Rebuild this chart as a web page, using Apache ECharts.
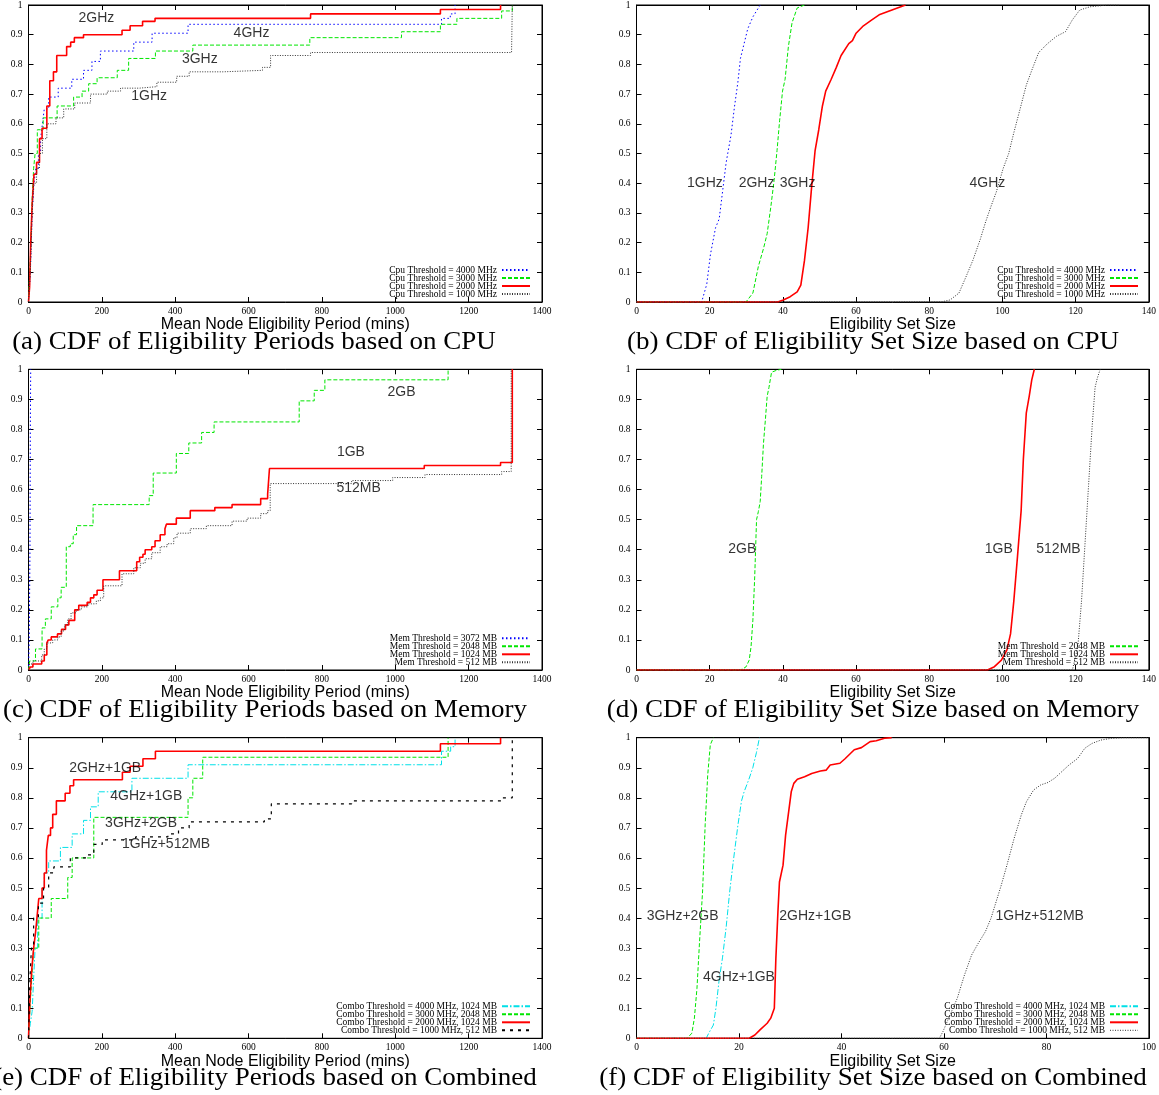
<!DOCTYPE html>
<html>
<head>
<meta charset="utf-8">
<script src="https://cdn.jsdelivr.net/npm/echarts@6/dist/echarts.min.js"></script>
<style>html,body{margin:0;padding:0;background:#fff}#c{width:1159px;height:1095px}</style>
</head>
<body>
<div id="c"></div>
<script>
// ---------- tick labels ----------
const cdfTicks = [0,0.1,0.2,0.3,0.4,0.5,0.6,0.7,0.8,0.9,1];
const periodTicks = [0,200,400,600,800,1000,1200,1400];
const cpuMemSetTicks = [0,20,40,60,80,100,120,140];
const comboSetTicks = [0,20,40,60,80,100];

// ---------- series names ----------
const cpuNames = ['Cpu Threshold = 4000 MHz','Cpu Threshold = 3000 MHz','Cpu Threshold = 2000 MHz','Cpu Threshold = 1000 MHz'];
const memNames = ['Mem Threshold = 3072 MB','Mem Threshold = 2048 MB','Mem Threshold = 1024 MB','Mem Threshold = 512 MB'];
const comboNames = ['Combo Threshold = 4000 MHz, 1024 MB','Combo Threshold = 3000 MHz, 2048 MB','Combo Threshold = 2000 MHz, 1024 MB','Combo Threshold = 1000 MHz, 512 MB'];

// ---------- (a) eligibility periods, CPU ----------
const periodCpu4000 = [[0,0],[5,0.1],[10,0.3],[15,0.4],[20,0.45],[27,0.5],[33,0.55],[38,0.6],[43,0.65],[55,0.69],[81,0.72],[118,0.75],[150,0.78],[173,0.81],[196,0.845],[287,0.875],[337,0.905],[435,0.935],[1126,0.955],[1150,0.97],[1163,1.0]];
const periodCpu3000 = [[0,0],[5,0.15],[10,0.35],[14,0.45],[18,0.5],[24,0.58],[40,0.62],[78,0.66],[123,0.69],[146,0.71],[164,0.735],[187,0.755],[242,0.78],[273,0.82],[346,0.845],[448,0.865],[767,0.89],[1017,0.91],[1123,0.935],[1168,0.955],[1290,0.98],[1319,1.0]];
const periodCpu2000 = [[0,0],[3,0.05],[6,0.2],[10,0.33],[15,0.43],[22,0.47],[30,0.55],[37,0.585],[50,0.66],[58,0.745],[68,0.775],[77,0.83],[104,0.86],[115,0.875],[125,0.89],[150,0.9],[255,0.915],[277,0.93],[311,0.945],[345,0.955],[769,0.97],[1123,0.985],[1287,1.0]];
const periodCpu1000 = [[0,0],[5,0.1],[10,0.3],[14,0.4],[22,0.45],[30,0.5],[38,0.55],[50,0.6],[75,0.62],[96,0.65],[126,0.67],[169,0.7],[215,0.71],[251,0.72],[302,0.725],[350,0.74],[404,0.76],[438,0.775],[530,0.78],[638,0.79],[660,0.83],[769,0.84],[1317,0.84],[1319,1.0]];

// ---------- (b) eligibility set size, CPU ----------
const setCpu4000 = [[0,0],[17.8,0],[19.2,0.06],[20.2,0.16],[21.6,0.25],[22.6,0.28],[23.6,0.38],[24.5,0.47],[25.8,0.56],[26.8,0.66],[27.7,0.74],[28.4,0.82],[29.4,0.87],[30.4,0.92],[31.8,0.96],[33.8,1.0]];
const setCpu3000 = [[0,0],[29.9,0],[31.8,0.03],[33.3,0.12],[34.7,0.18],[35.7,0.23],[36.7,0.32],[37.6,0.41],[38.4,0.51],[39.1,0.61],[39.9,0.71],[40.6,0.75],[41.5,0.86],[42.5,0.94],[43.9,0.99],[45.9,1.0]];
const setCpu2000 = [[0,0],[38.6,0],[40.1,0.007],[42,0.018],[43.9,0.034],[44.9,0.057],[45.9,0.14],[46.9,0.25],[47.8,0.38],[48.8,0.51],[49.8,0.58],[50.8,0.66],[51.7,0.71],[53.2,0.75],[54.6,0.79],[55.9,0.83],[58,0.87],[59,0.88],[60,0.905],[62,0.93],[64.3,0.95],[66.3,0.967],[68.7,0.978],[71.1,0.989],[73.5,1.0]];
const setCpu1000 = [[0,0],[83.2,0],[85.7,0.007],[88.1,0.03],[90,0.084],[91.9,0.14],[93.9,0.21],[95.4,0.27],[96.8,0.32],[98.3,0.37],[100.2,0.45],[101.7,0.5],[103.1,0.57],[104.6,0.64],[106.5,0.73],[108,0.78],[109.9,0.84],[112.3,0.87],[114.8,0.895],[117.2,0.91],[119.1,0.95],[121.1,0.983],[123.9,0.994],[128.8,1.0],[131.8,1.0]];

// ---------- (c) eligibility periods, memory ----------
const periodMem3072 = [[0,0],[2,0.1],[4,0.4],[5,0.8],[6,1.0]];
const periodMem2048 = [[0,0],[3,0.03],[19,0.07],[37,0.14],[46,0.17],[62,0.21],[80,0.24],[89,0.275],[103,0.41],[114,0.42],[122,0.45],[131,0.48],[176,0.55],[329,0.58],[340,0.655],[403,0.72],[437,0.755],[472,0.79],[506,0.825],[738,0.895],[779,0.93],[808,0.965],[1144,1.0]];
const periodMem1024 = [[0,0],[5,0.01],[12,0.02],[36,0.03],[43,0.05],[50,0.09],[54,0.1],[62,0.11],[79,0.12],[90,0.135],[101,0.15],[110,0.165],[126,0.2],[137,0.215],[160,0.225],[169,0.24],[178,0.25],[187,0.265],[203,0.3],[248,0.33],[295,0.36],[303,0.375],[312,0.385],[318,0.4],[336,0.41],[345,0.43],[359,0.45],[372,0.47],[376,0.485],[403,0.505],[441,0.53],[508,0.54],[555,0.55],[633,0.57],[652,0.585],[657,0.67],[1079,0.68],[1287,0.69],[1319,1.0]];
const periodMem512 = [[0,0],[3,0.02],[12,0.03],[36,0.05],[43,0.07],[50,0.09],[66,0.1],[80,0.11],[89,0.13],[98,0.15],[107,0.17],[116,0.19],[130,0.2],[144,0.21],[162,0.22],[185,0.23],[196,0.24],[205,0.28],[255,0.32],[287,0.34],[305,0.355],[318,0.37],[336,0.39],[359,0.41],[378,0.42],[396,0.44],[405,0.455],[441,0.47],[485,0.48],[555,0.495],[596,0.505],[633,0.52],[652,0.53],[659,0.62],[881,0.63],[993,0.64],[1081,0.65],[1290,0.66],[1316,1.0]];

// ---------- (d) eligibility set size, memory ----------
const setMem2048 = [[0,0],[28.4,0],[29.9,0.01],[30.8,0.033],[31.3,0.078],[31.8,0.166],[32.3,0.31],[32.8,0.5],[33.3,0.527],[33.8,0.56],[34.2,0.643],[34.7,0.754],[35.2,0.83],[35.7,0.91],[36.2,0.94],[36.9,0.99],[38.1,0.996],[39.6,1.0]];
const setMem1024 = [[0,0],[95.9,0],[97.8,0.011],[99.7,0.033],[101.2,0.066],[102.2,0.12],[103.1,0.23],[104.1,0.377],[105.1,0.53],[105.7,0.7],[106.5,0.854],[107.3,0.91],[108,0.965],[108.7,1.0]];
const setMem512 = [[0,0],[119.1,0],[120.6,0.078],[121.6,0.23],[122.5,0.41],[123.5,0.61],[124.5,0.81],[125.3,0.94],[125.9,0.97],[126.7,1.0]];

// ---------- (e) eligibility periods, combined ----------
const periodCombo4000 = [[0,0],[5,0.05],[10,0.09],[14,0.2],[18,0.3],[25,0.4],[37,0.5],[43,0.55],[55,0.59],[87,0.635],[119,0.68],[150,0.725],[169,0.77],[190,0.82],[282,0.865],[435,0.91],[1126,0.955],[1151,0.97],[1163,1.0]];
const periodCombo3000 = [[0,0],[4,0.1],[9,0.2],[14,0.3],[28,0.4],[62,0.465],[107,0.535],[119,0.6],[178,0.735],[435,0.8],[448,0.865],[475,0.935],[1144,1.0]];
const periodCombo2000 = [[0,0],[3,0.1],[5,0.15],[9,0.23],[14,0.3],[19,0.35],[23,0.4],[28,0.465],[37,0.5],[43,0.55],[49,0.625],[54,0.675],[60,0.7],[66,0.745],[76,0.79],[100,0.815],[113,0.84],[123,0.86],[256,0.885],[277,0.905],[312,0.93],[346,0.955],[1123,0.98],[1287,1.0]];
const periodCombo1000 = [[0,0],[2,0.1],[4,0.2],[8,0.3],[14,0.4],[27,0.45],[41,0.5],[55,0.55],[69,0.57],[114,0.6],[160,0.61],[178,0.645],[201,0.66],[292,0.67],[380,0.68],[409,0.7],[438,0.72],[643,0.73],[662,0.78],[881,0.79],[1290,0.8],[1319,1.0]];

// ---------- (f) eligibility set size, combined ----------
const setCombo4000 = [[0,0],[13.6,0],[14.1,0.017],[15,0.044],[15.5,0.1],[16.1,0.19],[16.8,0.27],[17.5,0.37],[18.2,0.49],[18.9,0.59],[19.8,0.71],[20.5,0.79],[21,0.82],[21.9,0.86],[22.7,0.9],[23.4,0.95],[24,1.0]];
const setCombo3000 = [[0,0],[9.9,0],[10.8,0.017],[11.3,0.067],[11.8,0.166],[12.3,0.32],[12.9,0.49],[13.4,0.71],[13.9,0.876],[14.4,0.976],[15,1.0]];
const setCombo2000 = [[0,0],[22,0],[23.1,0.011],[24.1,0.028],[25.5,0.05],[26.2,0.067],[26.9,0.1],[27.2,0.266],[27.6,0.42],[27.9,0.52],[28.6,0.576],[29.1,0.676],[29.7,0.754],[30.2,0.82],[30.7,0.848],[31.4,0.862],[32.8,0.87],[34.2,0.881],[35.9,0.889],[37,0.892],[37.8,0.909],[39.7,0.915],[40.7,0.93],[42.5,0.96],[43.9,0.967],[45.6,0.987],[46.8,0.99],[48.4,0.998],[49.8,1.0]];
const setCombo1000 = [[0,0],[59.1,0],[59.8,0.022],[61.2,0.078],[62.6,0.133],[64,0.21],[65.4,0.277],[66.7,0.316],[68.1,0.355],[69.2,0.4],[70.2,0.455],[71.2,0.51],[72.3,0.576],[73.7,0.665],[75.1,0.743],[76.1,0.787],[77.5,0.826],[78.9,0.843],[80.3,0.851],[81.6,0.865],[83,0.887],[84.4,0.909],[86.1,0.931],[87.5,0.965],[88.9,0.981],[90.6,0.992],[92.7,0.998],[94.8,1.0],[100,1.0]];

// ---------- inline curve labels [text, x, y] ----------
const notesA = [['2GHz',185,0.955],['4GHz',608,0.905],['3GHz',467,0.817],['1GHz',329,0.693]];
const notesB = [['1GHz',18.7,0.40],['2GHz',32.8,0.40],['3GHz',44,0.40],['4GHz',95.9,0.40]];
const notesC = [['2GB',1017,0.923],['1GB',879,0.726],['512MB',900,0.604]];
const notesD = [['2GB',28.9,0.401],['1GB',99,0.401],['512MB',115.3,0.401]];
const notesE = [['2GHz+1GB',209,0.898],['4GHz+1GB',321,0.807],['3GHz+2GB',307,0.715],['1GHz+512MB',375,0.646]];
const notesF = [['3GHz+2GB',9,0.407],['4GHz+1GB',20,0.203],['2GHz+1GB',34.9,0.407],['1GHz+512MB',78.7,0.407]];

// ---------- styles ----------
const ST = {
  blue:  {color:'#0000ff', width:1,   type:[1.5,2.5]},
  green: {color:'#00e600', width:1,   type:[4,2]},
  red:   {color:'#ff0000', width:1.6, type:'solid'},
  dot:   {color:'#333333', width:1,   type:[1,1.5]},
  cyan:  {color:'#00e0e8', width:1,   type:[6,2,1.5,2]},
  dash:  {color:'#000000', width:1.2, type:[3,5]}
};

const W = 1159;
const panels = [
  {grid:{left:28.5, top:2, width:513.5, height:300}, xt:periodTicks, xname:'Mean Node Eligibility Period (mins)', step:true,
   series:[[cpuNames[0],periodCpu4000,ST.blue],[cpuNames[1],periodCpu3000,ST.green],[cpuNames[2],periodCpu2000,ST.red],[cpuNames[3],periodCpu1000,ST.dot]],
   notes:notesA, legend:{right:W-531, top:265, names:cpuNames}, caption:['(a) CDF of Eligibility Periods based on CPU',254,342]},
  {grid:{left:636.5, top:2, width:515, height:300}, xt:cpuMemSetTicks, xname:'Eligibility Set Size', step:false,
   series:[[cpuNames[0],setCpu4000,ST.blue],[cpuNames[1],setCpu3000,ST.green],[cpuNames[2],setCpu2000,ST.red],[cpuNames[3],setCpu1000,ST.dot]],
   notes:notesB, legend:{right:W-1139, top:265, names:cpuNames}, caption:['(b) CDF of Eligibility Set Size based on CPU',873,342]},
  {grid:{left:28.5, top:369.3, width:513.5, height:300.7}, xt:periodTicks, xname:'Mean Node Eligibility Period (mins)', step:true,
   series:[[memNames[0],periodMem3072,ST.blue],[memNames[1],periodMem2048,ST.green],[memNames[2],periodMem1024,ST.red],[memNames[3],periodMem512,ST.dot]],
   notes:notesC, legend:{right:W-531, top:633.3, names:memNames}, caption:['(c) CDF of Eligibility Periods based on Memory',265,710]},
  {grid:{left:636.5, top:369.3, width:515, height:300.7}, xt:cpuMemSetTicks, xname:'Eligibility Set Size', step:false,
   series:[[memNames[1],setMem2048,ST.green],[memNames[2],setMem1024,ST.red],[memNames[3],setMem512,ST.dot]],
   notes:notesD, legend:{right:W-1139, top:641.3, names:memNames.slice(1)}, caption:['(d) CDF of Eligibility Set Size based on Memory',873,710]},
  {grid:{left:28.5, top:737.7, width:513.5, height:300.6}, xt:periodTicks, xname:'Mean Node Eligibility Period (mins)', step:true,
   series:[[comboNames[0],periodCombo4000,ST.cyan],[comboNames[1],periodCombo3000,ST.green],[comboNames[2],periodCombo2000,ST.red],[comboNames[3],periodCombo1000,ST.dash]],
   notes:notesE, legend:{right:W-531, top:1001.3, names:comboNames}, caption:['(e) CDF of Eligibility Periods based on Combined',265,1078]},
  {grid:{left:636.5, top:737.7, width:515, height:300.6}, xt:comboSetTicks, xname:'Eligibility Set Size', step:false,
   series:[[comboNames[0],setCombo4000,ST.cyan],[comboNames[1],setCombo3000,ST.green],[comboNames[2],setCombo2000,ST.red],[comboNames[3],setCombo1000,ST.dot]],
   notes:notesF, legend:{right:W-1139, top:1001.3, names:comboNames, override:{3:ST.dot}}, caption:['(f) CDF of Eligibility Set Size based on Combined',873,1078]}
];

const serif = 'Liberation Serif';
const sans = 'Liberation Sans';
const tickStyle = {inside:true, length:5, lineStyle:{color:'#000', width:1}};
const lineAx = {show:true, onZero:false, lineStyle:{color:'#000', width:1}};

const grid = [], xAxis = [], yAxis = [], series = [], legend = [], graphic = [];
panels.forEach((p, g) => {
  grid.push(Object.assign({show:true, borderColor:'#000', borderWidth:1, backgroundColor:'#fff'}, p.grid));
  const xmin = p.xt[0], xmax = p.xt[p.xt.length-1], xint = p.xt[1]-p.xt[0];
  const ymin = cdfTicks[0], ymax = cdfTicks[cdfTicks.length-1], yint = +(cdfTicks[1]-cdfTicks[0]).toFixed(2);
  xAxis.push({gridIndex:g, type:'value', position:'bottom', min:xmin, max:xmax, interval:xint,
    axisLine:lineAx, axisTick:tickStyle, splitLine:{show:false},
    axisLabel:{fontFamily:serif, fontSize:9.5, color:'#000', margin:4, formatter:v => String(v)},
    name:p.xname, nameLocation:'middle', nameGap:9,
    nameTextStyle:{fontFamily:sans, fontSize:16, color:'#000'}});
  xAxis.push({gridIndex:g, type:'value', position:'top', min:xmin, max:xmax, interval:xint,
    axisLine:lineAx, axisTick:tickStyle, splitLine:{show:false}, axisLabel:{show:false}});
  yAxis.push({gridIndex:g, type:'value', position:'left', min:ymin, max:ymax, interval:yint,
    axisLine:lineAx, axisTick:tickStyle, splitLine:{show:false},
    axisLabel:{fontFamily:serif, fontSize:9.5, color:'#000', margin:6, formatter:v => String(+v.toFixed(1))}});
  yAxis.push({gridIndex:g, type:'value', position:'right', min:ymin, max:ymax, interval:yint,
    axisLine:lineAx, axisTick:tickStyle, splitLine:{show:false}, axisLabel:{show:false}});

  p.series.forEach(([name, data, st]) => {
    series.push({type:'line', name, data, xAxisIndex:2*g, yAxisIndex:2*g, symbol:'none',
      step: p.step ? 'end' : false, color:st.color, silent:true,
      lineStyle:{color:st.color, width:st.width, type:st.type}});
  });
  series.push({type:'scatter', xAxisIndex:2*g, yAxisIndex:2*g, symbolSize:0, silent:true, z:5,
    data:p.notes.map(n => ({name:n[0], value:[n[1], n[2]]})),
    label:{show:true, position:'inside', formatter:'{b}', fontFamily:sans, fontSize:14, color:'#000'}});

  legend.push({orient:'vertical', align:'right', right:p.legend.right, top:p.legend.top,
    itemWidth:28, itemHeight:8, itemGap:-2, padding:0, selectedMode:false,
    itemStyle:{opacity:0, borderWidth:0},
    data:p.legend.names.map((n,i) => {
      const o = p.legend.override && p.legend.override[i];
      return o ? {name:n, lineStyle:{color:o.color, width:o.width, type:o.type}} : n;
    }),
    textStyle:{fontFamily:serif, fontSize:9.5, color:'#000', lineHeight:8}});

  graphic.push({type:'text', x:p.caption[1], y:p.caption[2], scaleX:1.08, silent:true,
    style:{text:p.caption[0], x:0, y:0, font:'25px "Liberation Serif"', fill:'#000',
      align:'center', verticalAlign:'middle', textAlign:'center', textVerticalAlign:'middle'}});
});

const chart = echarts.init(document.getElementById('c'), null, {renderer:'canvas'});
chart.setOption({animation:false, backgroundColor:'#fff', grid, xAxis, yAxis, series, legend, graphic});
</script>
</body>
</html>
